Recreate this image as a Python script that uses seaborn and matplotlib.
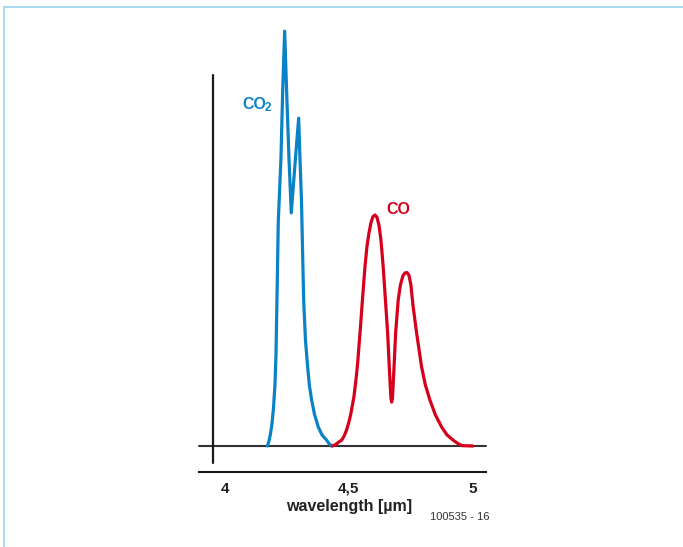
import matplotlib
matplotlib.use("Agg")
import matplotlib.pyplot as plt
import matplotlib.patches as mpatches
from matplotlib.transforms import blended_transform_factory, offset_copy
import seaborn as sns
import pandas as pd

# ---- data ----
co2_wavelength = [4.1717, 4.1778, 4.1838, 4.1899, 4.1960, 4.2020, 4.2061, 4.2101,
                  4.2154, 4.2263, 4.2331, 4.2412, 4.2493, 4.2586, 4.2679, 4.2828,
                  4.2978, 4.3030, 4.3091, 4.3180, 4.3253, 4.3341, 4.3414, 4.3503,
                  4.3616, 4.3770, 4.3919, 4.4109, 4.4202, 4.4311]
co2_absorption = [0.0, 1.2, 2.9, 5.3, 9.2, 14.7, 22.0, 35.3,
                  54.1, 69.6, 85.5, 100.2, 85.5, 69.6, 56.3, 67.9,
                  79.2, 69.6, 59.4, 35.3, 25.6, 19.1, 14.5, 11.1,
                  7.7, 4.6, 2.7, 1.4, 0.6, 0.0]

co_wavelength = [4.4335, 4.4485, 4.4606, 4.4715, 4.4808, 4.4917, 4.5010, 4.5091,
                 4.5212, 4.5293, 4.5362, 4.5414, 4.5467, 4.5556, 4.5657, 4.5737,
                 4.5818, 4.5899, 4.5980, 4.6061, 4.6141, 4.6222, 4.6303, 4.6396,
                 4.6485, 4.6574, 4.6646, 4.6707, 4.6735, 4.6768, 4.6828, 4.6897,
                 4.7002, 4.7091, 4.7192, 4.7273, 4.7354, 4.7434, 4.7515, 4.7596,
                 4.7745, 4.7947, 4.8101, 4.8283, 4.8505, 4.8756, 4.8970, 4.9224,
                 4.9414, 4.9576, 5.0020]
co_absorption = [0.0, 0.4, 1.0, 1.4, 2.3, 3.9, 5.8, 7.9,
                 11.9, 15.9, 20.0, 24.0, 28.0, 35.3, 43.2, 48.1,
                 51.4, 53.9, 55.4, 55.8, 55.3, 53.4, 49.8, 43.2,
                 35.3, 27.3, 18.4, 11.6, 10.6, 11.4, 18.4, 27.3,
                 35.3, 38.9, 41.1, 41.8, 41.9, 41.3, 38.9, 34.1,
                 27.3, 19.1, 14.7, 11.1, 7.5, 4.6, 2.7, 1.4,
                 0.6, 0.1, 0.0]

tick_values = [4.0, 4.5, 5.0]
tick_labels = ["4", "4,5", "5"]
x_label = "wavelength [µm]"
label_co2 = "CO"
label_co2_sub = "2"
label_co = "CO"
figure_code = "100535 - 16"

co2_df = pd.DataFrame({"wavelength": co2_wavelength, "absorption": co2_absorption})
co_df = pd.DataFrame({"wavelength": co_wavelength, "absorption": co_absorption})

# ---- style ----
sns.set_style("white")
plt.rcParams["font.family"] = ["Liberation Sans", "DejaVu Sans"]

BLUE = "#0a82c6"
RED = "#d6001c"
AXC = "#1a1a1a"

W, H = 683, 547
fig = plt.figure(figsize=(W / 100, H / 100), dpi=100)
fig.patch.set_facecolor("white")

# frame (light blue, cut off at right/bottom)
fig.add_artist(mpatches.Rectangle((3.5 / W, -0.1), 1.2, 1.1 - 6.5 / H,
                                  transform=fig.transFigure, fill=False,
                                  edgecolor="#a3d5ef", linewidth=1.3))

left_px, right_px = 199, 486
base_px, top_px = 446, 20
ax = fig.add_axes([left_px / W, (H - base_px) / H,
                   (right_px - left_px) / W, (base_px - top_px) / H])
ax.set_facecolor("none")

sns.lineplot(data=co2_df, x="wavelength", y="absorption", ax=ax, color=BLUE,
             linewidth=2.3, estimator=None, sort=False, solid_joinstyle="round",
             solid_capstyle="round", clip_on=False, zorder=3)
sns.lineplot(data=co_df, x="wavelength", y="absorption", ax=ax, color=RED,
             linewidth=2.3, estimator=None, sort=False, solid_joinstyle="round",
             solid_capstyle="round", clip_on=False, zorder=3)

ax.set_xlim(3.895, 5.055)
ymax = (base_px - top_px) / 4.14
ax.set_ylim(0, ymax)

# baseline
ax.axhline(0, color="#333333", linewidth=1.5, zorder=2, clip_on=False)
# vertical axis line
ax.axvline(3.95, ymin=-4.1 / ymax, ymax=89.6 / ymax, color=AXC,
           linewidth=1.6, clip_on=False, zorder=2)

for s in ["left", "right", "top"]:
    ax.spines[s].set_visible(False)
ax.spines["bottom"].set_position(("outward", 26 * 72 / 100))
ax.spines["bottom"].set_color(AXC)
ax.spines["bottom"].set_linewidth(1.5)
ax.set_yticks([])
ax.set_xticks(tick_values)
ax.set_xticklabels(tick_labels, fontsize=11, fontweight="bold", color="#222222")
ax.tick_params(axis="x", direction="inout", length=8, width=1.4, color=AXC, pad=3)
ax.set_xlabel("")
ax.set_ylabel("")

tr = blended_transform_factory(ax.transData, fig.transFigure)
ax.text(4.5, (H - 506) / H, x_label, transform=tr, ha="center", va="center",
        fontsize=11.5, fontweight="bold", color="#222222")
fig.text(490 / W, (H - 517) / H, figure_code, ha="right", va="center",
         fontsize=8, color="#333333")

ax.text(4.0687, 82.6, label_co2, ha="left", va="center", fontsize=11.5,
        fontweight="bold", color=BLUE)
sub_tr = offset_copy(ax.transData, fig=fig, x=23, y=-4, units="dots")
ax.text(4.0687, 82.6, label_co2_sub, transform=sub_tr, ha="left", va="center",
        fontsize=8.5, fontweight="bold", color=BLUE)
ax.text(4.699, 57.2, label_co, ha="center", va="center", fontsize=11.5,
        fontweight="bold", color=RED)

fig.savefig("out.png", dpi=100, facecolor="white")
